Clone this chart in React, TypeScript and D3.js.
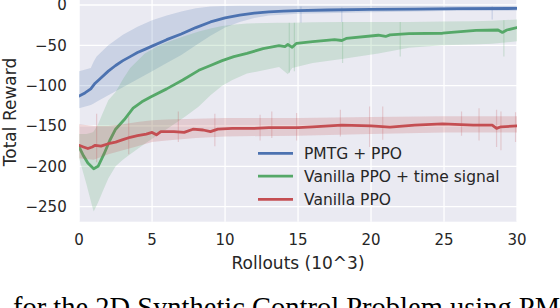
import React from 'react';
import * as d3 from 'd3';

const xTicks = [0, 5, 10, 15, 20, 25, 30];
const yTicks = [0, -50, -100, -150, -200, -250];
const seriesNames = ['PMTG + PPO', 'Vanilla PPO + time signal', 'Vanilla PPO'];
const seriesColors = ['#4C72B0', '#55A868', '#C44E52'];

// [rollouts (10^3), mean reward]
const pmtgMean = [
  [0, -113], [0.4, -109], [0.8, -104], [1.1, -97], [1.4, -92], [2, -82], [2.5, -75], [3, -69],
  [3.5, -64], [4, -59], [4.5, -55], [5, -51], [6, -43], [7, -36], [8, -28], [9, -21], [10, -16],
  [11, -12.5], [12, -10], [13, -8.5], [14, -7.5], [15, -7], [17, -6.2], [20, -5.5], [23, -5],
  [26, -4.6], [30, -4.3],
];
// [rollouts, lower, upper]
const pmtgBand = [
  [0, -128, -82], [0.8, -124, -78], [1.0, -122, -70], [1.2, -120, -64], [2, -112, -50], [3, -102, -37],
  [4, -92, -27], [5, -82, -19], [6, -72, -13], [7, -62, -8], [8, -50, -4], [9, -38, -2], [10, -28, -1.2],
  [11, -21, -1], [12, -16, -1], [13, -13, -1], [15, -11, -1], [20, -9, -1], [25, -7.5, -1], [30, -7, -1],
];
const pmtgSpikes = [[15.2, -22, -2], [18.0, -21, -3], [28.3, -18, -2]];

const timeMean = [
  [0, -176], [0.3, -187], [0.6, -196], [1.0, -203], [1.3, -200], [1.7, -185], [2.1, -168], [2.5, -154],
  [3.1, -142], [3.7, -128], [4.3, -120], [4.9, -114], [6, -104], [7.1, -93], [8.2, -81], [9, -75],
  [9.8, -69], [10.6, -64], [11.5, -60], [12.6, -54], [13.7, -50.5], [14.1, -51.5], [14.3, -49],
  [14.6, -52.5], [14.9, -47.5], [16, -45.5], [17.5, -43], [18, -44], [18.3, -41.5], [20.5, -37.5],
  [21, -39], [21.3, -37], [22.6, -35.5], [24.9, -35], [25.5, -34], [27.2, -31.5], [28.7, -31],
  [29, -34], [29.3, -31], [30, -28],
];
const timeBand = [
  [0, -190, -160], [0.5, -222, -160], [0.9, -250, -158], [1.0, -256, -157], [1.3, -245, -148],
  [1.6, -232, -135], [2, -215, -118], [2.5, -200, -108], [3, -192, -92], [3.5, -185, -78],
  [4.5, -172, -60], [5.5, -160, -50], [6.5, -148, -43], [7.3, -138, -38], [8.2, -126, -33],
  [9, -112, -29], [9.8, -100, -26], [10.5, -93, -24.5], [11.5, -85, -23], [13.7, -77, -22],
  [14.3, -86, -22], [14.6, -78, -22], [16, -72, -21.5], [18, -67, -21], [20.5, -60, -21],
  [22.6, -53, -21], [24.9, -50, -20.5], [27, -49, -20], [28.3, -48, -19.5], [30, -45, -18],
];
const timeSpikes = [[14.4, -84, -22], [14.75, -82, -22], [18.05, -72, -21], [22.0, -64, -21], [29.1, -64, -19]];

const vanillaMean = [
  [0, -174], [0.3, -176], [0.6, -178], [0.9, -176], [1.1, -174], [1.5, -175], [2, -172], [2.5, -170],
  [3, -167], [3.5, -164], [4, -162], [4.6, -160], [5, -158], [5.3, -161], [5.6, -157], [6.5, -157],
  [7.2, -158], [7.8, -154], [8.5, -155], [9, -157], [9.5, -154], [10.5, -153], [12, -153], [13, -152],
  [15, -152], [16, -151], [18, -149], [20, -150], [21.3, -151.5], [23, -149], [24.9, -147.5],
  [27, -149], [28.3, -149], [28.6, -153], [28.9, -151], [30, -150],
];
const vanillaBand = [
  [0, -190, -148], [1, -192, -150], [2, -185, -150], [3, -180, -148], [4, -175, -145], [5, -170, -143],
  [6, -168, -142], [8, -165, -141], [10, -163, -140], [15, -162, -140], [20, -160, -139],
  [25, -158, -138], [30, -158, -138],
];
const vanillaSpikes = [
  [1.2, -195, -135], [3.4, -185, -138], [6.8, -170, -132], [9.3, -175, -135], [12.4, -168, -136],
  [13.2, -165, -132], [14.9, -168, -134], [17.9, -163, -130], [19.9, -176, -126], [20.8, -167, -126],
  [26.2, -162, -132], [27.4, -168, -128], [28.6, -176, -130], [28.9, -180, -132], [29.9, -170, -133],
];

const series = [
  { mean: pmtgMean, band: pmtgBand, spikes: pmtgSpikes },
  { mean: timeMean, band: timeBand, spikes: timeSpikes },
  { mean: vanillaMean, band: vanillaBand, spikes: vanillaSpikes },
];

const fmt = (v: number) => (v < 0 ? '\u2212' + Math.abs(v) : String(v));

export default function App() {
  const W = 560;
  const H = 308;
  const x = d3.scaleLinear().domain([0, 30]).range([79.1, 517]);
  const y = d3.scaleLinear().domain([-268.7, 6.2]).range([221.7, 0]);
  const [x0, x1] = x.range();
  const [yb, yt] = y.range();
  const line = d3.line<number[]>().x((d) => x(d[0])).y((d) => y(d[1]));
  const area = d3
    .area<number[]>()
    .x((d) => x(d[0]))
    .y0((d) => y(d[1]))
    .y1((d) => y(d[2]));
  const font = 'DejaVu Sans';
  const textColor = '#262626';
  const legendRowY = [153.3, 176.2, 199.3];

  return (
    <svg
      width={W}
      height={H}
      viewBox={`0 0 ${W} ${H}`}
      style={{ position: 'absolute', left: 0, top: 0, background: '#fff' }}
    >
      <defs>
        <clipPath id="plot">
          <rect x={x0} y={yt} width={x1 - x0} height={yb - yt} />
        </clipPath>
      </defs>
      <rect x={x0} y={yt} width={x1 - x0} height={yb - yt} fill="#EAEAF2" />
      {xTicks.map((t) => (
        <line key={'gx' + t} x1={x(t)} x2={x(t)} y1={yt} y2={yb} stroke="#fff" strokeWidth={1.3} />
      ))}
      {yTicks.map((t) => (
        <line key={'gy' + t} x1={x0} x2={x1} y1={y(t)} y2={y(t)} stroke="#fff" strokeWidth={1.3} />
      ))}
      <g clipPath="url(#plot)">
        {series.map((s, i) => (
          <g key={'s' + i}>
            <path d={area(s.band) || ''} fill={seriesColors[i]} fillOpacity={0.2} />
            {s.spikes.map((sp, j) => (
              <line
                key={'sp' + j}
                x1={x(sp[0])}
                x2={x(sp[0])}
                y1={y(sp[1])}
                y2={y(sp[2])}
                stroke={seriesColors[i]}
                strokeOpacity={0.22}
                strokeWidth={1.2}
              />
            ))}
            <path
              d={line(s.mean) || ''}
              fill="none"
              stroke={seriesColors[i]}
              strokeWidth={2.8}
              strokeLinejoin="round"
              strokeLinecap="round"
            />
          </g>
        ))}
      </g>
      {xTicks.map((t) => (
        <text
          key={'tx' + t}
          x={x(t)}
          y={245}
          textAnchor="middle"
          fontFamily={font}
          fontSize={15}
          fill={textColor}
        >
          {fmt(t)}
        </text>
      ))}
      {yTicks.map((t) => (
        <text
          key={'ty' + t}
          x={66.7}
          y={y(t)}
          dy="0.36em"
          textAnchor="end"
          fontFamily={font}
          fontSize={15}
          fill={textColor}
        >
          {fmt(t)}
        </text>
      ))}
      <text
        x={(x0 + x1) / 2}
        y={268.5}
        textAnchor="middle"
        fontFamily={font}
        fontSize={17}
        fill={textColor}
      >
        Rollouts (10^3)
      </text>
      <text
        transform={`translate(15.5, 112) rotate(-90)`}
        textAnchor="middle"
        fontFamily={font}
        fontSize={17}
        fill={textColor}
      >
        Total Reward
      </text>
      {seriesNames.map((n, i) => (
        <g key={'lg' + i}>
          <line
            x1={258}
            x2={293}
            y1={legendRowY[i]}
            y2={legendRowY[i]}
            stroke={seriesColors[i]}
            strokeWidth={2.8}
          />
          <text
            x={304}
            y={legendRowY[i]}
            dy="0.36em"
            fontFamily={font}
            fontSize={15.5}
            fill={textColor}
          >
            {n}
          </text>
        </g>
      ))}
      <text x={13} y={317} fontFamily="Liberation Serif" fontSize={28.5} fill="#000">
        for the 2D Synthetic Control Problem using PMTG
      </text>
    </svg>
  );
}
